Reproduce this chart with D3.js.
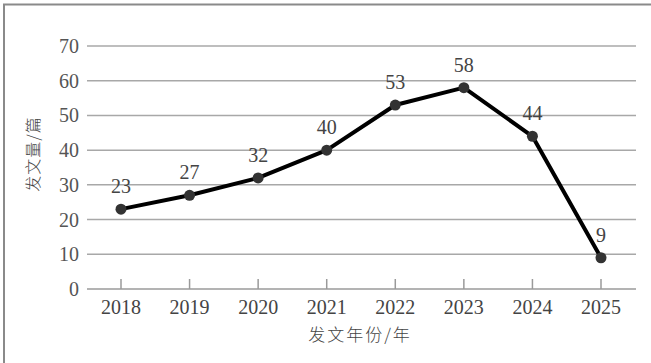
<!DOCTYPE html>
<html>
<head>
<meta charset="utf-8">
<script src="https://cdn.jsdelivr.net/npm/d3@7"></script>
<style>
  body { margin: 0; background: #fff; }
  svg { display: block; }
</style>
</head>
<body>
<svg width="651" height="363"></svg>
<script>
var years = ["2018", "2019", "2020", "2021", "2022", "2023", "2024", "2025"];
var counts = [23, 27, 32, 40, 53, 58, 44, 9];
var yTicks = [0, 10, 20, 30, 40, 50, 60, 70];

var svg = d3.select("svg");
var serif = "'Liberation Serif', 'DejaVu Serif', serif";
var cjk = "'Noto Sans CJK SC', sans-serif";

// frame
svg.append("path")
    .attr("d", "M4,363 L4,4.5 L651,4.5")
    .style("fill", "none").style("stroke", "#8a8a8a").style("stroke-width", 2);

var x = d3.scalePoint().domain(years).range([121, 601]);
var y = d3.scaleLinear().domain([0, 70]).range([289, 46]);

var left = 87, right = 636;

// gridlines
svg.append("g").selectAll("line").data(yTicks).enter().append("line")
    .attr("x1", left).attr("x2", right)
    .attr("y1", function (d) { return y(d); })
    .attr("y2", function (d) { return y(d); })
    .style("stroke", function (d) { return d === 0 ? "#9a9a9a" : "#a8a8a8"; })
    .style("stroke-width", 1.5);

// y tick labels
svg.append("g").selectAll("text").data(yTicks).enter().append("text")
    .attr("x", 79).attr("y", function (d) { return y(d); })
    .attr("dy", "0.35em").attr("text-anchor", "end")
    .style("font-family", serif).style("font-size", "20px").style("fill", "#555")
    .text(function (d) { return d; });

// x ticks pointing up
svg.append("g").selectAll("line").data(years).enter().append("line")
    .attr("x1", function (d) { return x(d); }).attr("x2", function (d) { return x(d); })
    .attr("y1", y(0)).attr("y2", y(0) - 10)
    .style("stroke", "#9a9a9a").style("stroke-width", 1.5);

svg.append("g").selectAll("text").data(years).enter().append("text")
    .attr("x", function (d) { return x(d); }).attr("y", 307)
    .attr("dy", "0.35em").attr("text-anchor", "middle")
    .style("font-family", serif).style("font-size", "20px").style("fill", "#444")
    .text(function (d) { return d; });

// axis titles
svg.append("text")
    .attr("x", 360).attr("y", 335).attr("dy", "0.35em").attr("text-anchor", "middle")
    .style("font-family", cjk).style("font-size", "17px").style("font-weight", 300)
    .style("fill", "#444").style("letter-spacing", "2px")
    .text("发文年份/年");

svg.append("text")
    .attr("transform", "translate(33,154) rotate(-90)")
    .attr("dy", "0.35em").attr("text-anchor", "middle")
    .style("font-family", cjk).style("font-size", "16px").style("font-weight", 300)
    .style("fill", "#444").style("letter-spacing", "1px")
    .text("发文量/篇");

// line and points
var pts = years.map(function (d, i) { return { year: d, value: counts[i] }; });

var line = d3.line()
    .x(function (d) { return x(d.year); })
    .y(function (d) { return y(d.value); });

svg.append("path").datum(pts).attr("d", line)
    .style("fill", "none").style("stroke", "#000").style("stroke-width", 4)
    .style("stroke-linejoin", "round");

svg.append("g").selectAll("circle").data(pts).enter().append("circle")
    .attr("cx", function (d) { return x(d.year); })
    .attr("cy", function (d) { return y(d.value); })
    .attr("r", 5.5).style("fill", "#333");

svg.append("g").selectAll("text").data(pts).enter().append("text")
    .attr("x", function (d) { return x(d.year); })
    .attr("y", function (d) { return y(d.value) - 23; })
    .attr("dy", "0.35em").attr("text-anchor", "middle")
    .style("font-family", serif).style("font-size", "20px").style("fill", "#444")
    .text(function (d) { return d.value; });
</script>
</body>
</html>
